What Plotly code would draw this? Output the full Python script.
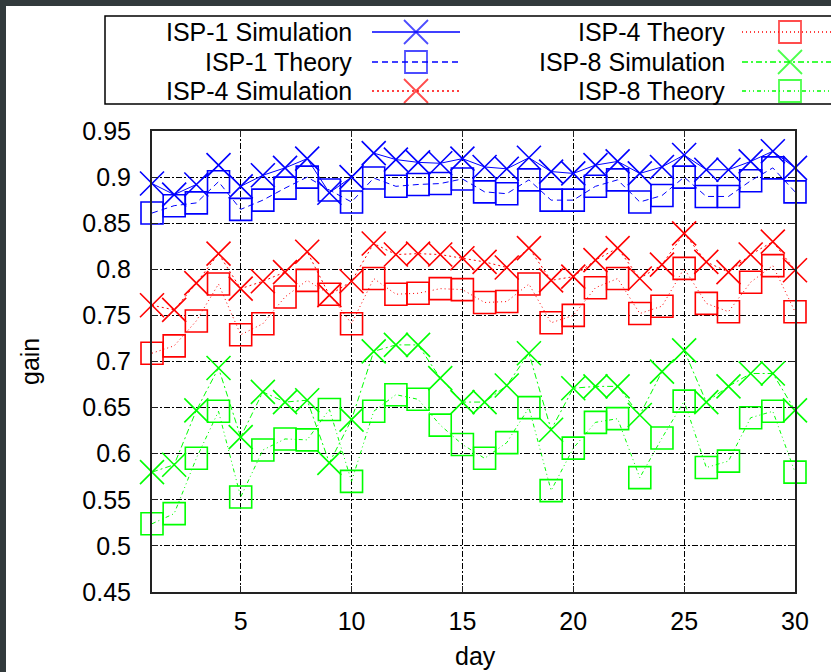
import plotly.graph_objects as go

days = list(range(1, 31))
isp1_sim = [0.893, 0.881, 0.892, 0.913, 0.890, 0.902, 0.910, 0.920, 0.883, 0.900,
            0.926, 0.919, 0.916, 0.915, 0.920, 0.911, 0.909, 0.921, 0.906, 0.904,
            0.913, 0.917, 0.904, 0.911, 0.924, 0.908, 0.908, 0.917, 0.928, 0.910]
isp1_th = [0.861, 0.869, 0.872, 0.895, 0.865, 0.875, 0.888, 0.900, 0.886, 0.873,
           0.899, 0.890, 0.892, 0.893, 0.898, 0.884, 0.882, 0.897, 0.875, 0.875,
           0.890, 0.897, 0.873, 0.880, 0.900, 0.879, 0.879, 0.896, 0.910, 0.884]
isp4_sim = [0.761, 0.756, 0.785, 0.817, 0.779, 0.787, 0.797, 0.819, 0.772, 0.787,
            0.828, 0.816, 0.817, 0.816, 0.812, 0.808, 0.802, 0.823, 0.788, 0.792,
            0.810, 0.823, 0.790, 0.805, 0.839, 0.808, 0.797, 0.816, 0.830, 0.799]
isp4_th = [0.709, 0.717, 0.744, 0.784, 0.729, 0.741, 0.770, 0.788, 0.773, 0.741,
           0.790, 0.773, 0.774, 0.779, 0.778, 0.764, 0.765, 0.784, 0.742, 0.750,
           0.780, 0.790, 0.752, 0.760, 0.801, 0.763, 0.754, 0.786, 0.804, 0.754]
isp8_sim = [0.580, 0.588, 0.647, 0.693, 0.618, 0.667, 0.656, 0.658, 0.590, 0.637,
            0.711, 0.718, 0.718, 0.682, 0.656, 0.656, 0.674, 0.709, 0.626, 0.671,
            0.673, 0.673, 0.642, 0.689, 0.712, 0.656, 0.673, 0.687, 0.687, 0.647]
isp8_th = [0.524, 0.535, 0.595, 0.646, 0.553, 0.604, 0.616, 0.615, 0.648, 0.570,
           0.646, 0.664, 0.659, 0.631, 0.610, 0.595, 0.612, 0.650, 0.560, 0.606,
           0.634, 0.638, 0.574, 0.617, 0.657, 0.585, 0.592, 0.639, 0.646, 0.580]

x_ticks = [5, 10, 15, 20, 25, 30]
y_ticks = [0.45, 0.5, 0.55, 0.6, 0.65, 0.7, 0.75, 0.8, 0.85, 0.9, 0.95]
y_tick_labels = ["0.45", "0.5", "0.55", "0.6", "0.65", "0.7", "0.75", "0.8", "0.85", "0.9", "0.95"]

series = [
    ("ISP-1 Simulation", isp1_sim, "#0000ff", "solid", "x-thin-open"),
    ("ISP-1 Theory", isp1_th, "#0000ff", "6px,4px", "square-open"),
    ("ISP-4 Simulation", isp4_sim, "#ff0000", "2px,3px", "x-thin-open"),
    ("ISP-4 Theory", isp4_th, "#ff0000", "1px,3px", "square-open"),
    ("ISP-8 Simulation", isp8_sim, "#00ff00", "6px,3px,2px,3px", "x-thin-open"),
    ("ISP-8 Theory", isp8_th, "#00ff00", "4px,3px,1px,3px,1px,3px", "square-open"),
]

FONT = "Liberation Sans, Arial, sans-serif"
W, H = 831, 672
L, R, T, B = 152, 795, 131, 592  # main plot area, pixels


def fx(xp):  # pixel -> full-canvas paper x
    return xp / W


def fy(yp):  # pixel -> full-canvas paper y
    return 1 - yp / H


fig = go.Figure()

for name, vals, col, dash, sym in series:
    fig.add_trace(go.Scatter(
        x=days, y=vals, mode="lines+markers", name=name,
        line=dict(color=col, width=1, dash=dash),
        marker=dict(symbol=sym, size=22 if sym == "square-open" else 24,
                    color=col, line=dict(color=col, width=1.6)),
        cliponaxis=False, showlegend=False,
    ))

# custom legend (text left, sample right) on a full-canvas pixel-unit overlay axis
shapes = []
annotations = []
rows_y = [32, 62, 91]
col_text_x = [354, 727]
col_line = [(372, 460), (742, 845)]
col_mark = [416, 790]
for i, (name, vals, col, dash, sym) in enumerate(series):
    c, r = divmod(i, 3)
    yy = rows_y[r]
    annotations.append(dict(
        x=fx(col_text_x[c]), y=fy(yy), xref="paper", yref="paper",
        text=name, showarrow=False, xanchor="right", yanchor="middle",
        font=dict(family=FONT, size=25, color="#000000")))
    x0, x1 = col_line[c]
    fig.add_trace(go.Scatter(
        x=[x0, col_mark[c], x1], y=[yy, yy, yy],
        xaxis="x2", yaxis="y2", mode="lines+markers",
        line=dict(color=col, width=1.5, dash=dash),
        marker=dict(symbol=sym, size=[0, 22 if sym == "square-open" else 24, 0],
                    color=col, line=dict(color=col, width=1.8)),
        cliponaxis=False, showlegend=False, hoverinfo="skip"))

# legend frame
shapes.append(dict(type="rect", xref="paper", yref="paper",
                   x0=fx(105), x1=fx(850), y0=fy(104), y1=fy(16),
                   line=dict(color="#000000", width=1.5), fillcolor="rgba(0,0,0,0)"))
# dark borders of the screenshot
dark = "#323a3c"
shapes.append(dict(type="rect", xref="paper", yref="paper", layer="below",
                   x0=fx(-5), x1=fx(6), y0=fy(680), y1=fy(-5),
                   line=dict(width=0), fillcolor=dark))
shapes.append(dict(type="rect", xref="paper", yref="paper", layer="below",
                   x0=fx(-5), x1=fx(840), y0=fy(6), y1=fy(-5),
                   line=dict(width=0), fillcolor=dark))

annotations.append(dict(x=fx(475), y=fy(656), xref="paper", yref="paper",
                        text="day", showarrow=False, xanchor="center", yanchor="middle",
                        font=dict(family=FONT, size=25, color="#000000")))
annotations.append(dict(x=fx(30), y=fy(362), xref="paper", yref="paper",
                        text="gain", showarrow=False, textangle=-90,
                        xanchor="center", yanchor="middle",
                        font=dict(family=FONT, size=25, color="#000000")))

GRID_DASH = "6px,2px,2px,2px"
fig.update_layout(
    width=W, height=H,
    margin=dict(l=0, r=0, t=0, b=0, pad=0, autoexpand=False),
    paper_bgcolor="#ffffff", plot_bgcolor="rgba(0,0,0,0)",
    font=dict(family=FONT, size=25, color="#000000"),
    shapes=shapes, annotations=annotations,
    xaxis=dict(domain=[L / W, R / W], range=[1, 30], tickvals=x_ticks,
               ticktext=[str(v) for v in x_ticks], automargin=False,
               showgrid=True, gridcolor="#000000", gridwidth=1.2, griddash=GRID_DASH,
               showline=True, linecolor="#222222", linewidth=2, mirror="ticks",
               ticks="inside", ticklen=6, tickcolor="#222222",
               ticklabelstandoff=6, zeroline=False,
               tickfont=dict(family=FONT, size=25)),
    yaxis=dict(domain=[1 - B / H, 1 - T / H], range=[0.45, 0.95], tickvals=y_ticks,
               ticktext=y_tick_labels, automargin=False,
               showgrid=True, gridcolor="#000000", gridwidth=1.2, griddash=GRID_DASH,
               showline=True, linecolor="#222222", linewidth=2, mirror="ticks",
               ticks="inside", ticklen=6, tickcolor="#222222",
               ticklabelstandoff=14, zeroline=False,
               tickfont=dict(family=FONT, size=25)),
    xaxis2=dict(domain=[0, 1], range=[0, W], anchor="y2", visible=False,
                fixedrange=True, automargin=False),
    yaxis2=dict(domain=[0, 1], range=[H, 0], anchor="x2", visible=False,
                fixedrange=True, automargin=False),
)

fig.write_html("out.html")
